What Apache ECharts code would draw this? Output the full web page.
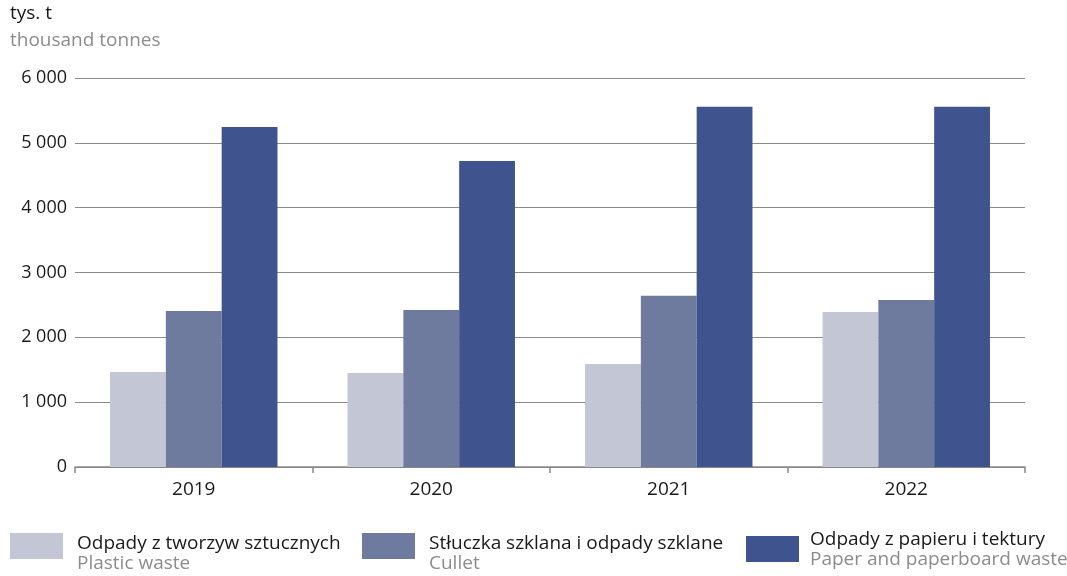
<!DOCTYPE html>
<html>
<head>
<meta charset="utf-8">
<script src="https://cdn.jsdelivr.net/npm/echarts@6/dist/echarts.min.js"></script>
<style>
html, body { margin: 0; padding: 0; background: #fff; }
#main { width: 1067px; height: 576px; }
</style>
</head>
<body>
<div id="main"></div>
<script>
var years = ['2019', '2020', '2021', '2022'];
var plastic = [1465, 1450, 1590, 2390];
var cullet = [2405, 2420, 2640, 2575];
var paper = [5245, 4720, 5555, 5555];
var seriesNames = ['Odpady z tworzyw sztucznych', 'Stłuczka szklana i odpady szklane', 'Odpady z papieru i tektury'];
var seriesNamesEn = ['Plastic waste', 'Cullet', 'Paper and paperboard waste'];
var colors = ['#c3c6d5', '#6f7a9f', '#3f548e'];

var font = 'Open Sans';

// one legend per item so each can sit where it does in the original
// firstLine: height of the Polish line; a taller line pushes the text down next to the square
function legendFor(i, left, top, firstLine, padLeft) {
	return {
		data: [seriesNames[i]],
		left: left,
		top: top,
		padding: 0,
		itemWidth: 53,
		itemHeight: 26,
		icon: 'rect',
		selectedMode: false,
		formatter: function(name) {
			return '{a|' + name + '}\n{b|' + seriesNamesEn[i] + '}';
		},
		textStyle: {
			rich: {
				a: { fontFamily: font, fontSize: 19, color: '#1a1a1a', lineHeight: firstLine, verticalAlign: 'bottom', padding: [0, 0, 0, padLeft] },
				b: { fontFamily: font, fontSize: 19, color: '#8c8c8c', lineHeight: 22, padding: [0, 0, 0, padLeft] }
			}
		}
	};
}

var option = {
	animation: false,
	grid: { left: 75, right: 42, top: 78, bottom: 109 },
	graphic: [{
		type: 'text', left: 10, top: 4,
		style: { text: 'tys. t', fontFamily: font, fontSize: 19, fill: '#1a1a1a' }
	}, {
		type: 'text', left: 10, top: 31,
		style: { text: 'thousand tonnes', fontFamily: font, fontSize: 19, fill: '#8c8c8c' }
	}],
	legend: [
		legendFor(0, 10, 533, 36, 9),
		legendFor(1, 362, 533, 36, 9),
		legendFor(2, 746, 530, 22, 6)
	],
	xAxis: {
		type: 'category',
		data: years,
		axisLine: { lineStyle: { color: '#888', width: 1.5 } },
		axisTick: { show: true, length: 6, lineStyle: { color: '#888', width: 1.5 } },
		axisLabel: { fontFamily: font, fontSize: 19, color: '#1a1a1a', margin: 13 }
	},
	yAxis: {
		type: 'value',
		min: 0,
		max: 6000,
		interval: 1000,
		axisLine: { show: false },
		axisTick: { show: false },
		axisLabel: {
			fontFamily: font, fontSize: 18, color: '#1a1a1a', margin: 8,
			formatter: function(v) {
				return String(v).replace(/\B(?=(\d{3})+(?!\d))/g, ' ');
			}
		},
		splitLine: { lineStyle: { color: '#8a8a8a', width: 1.2 } }
	},
	series: [{
		name: seriesNames[0], type: 'bar', data: plastic,
		itemStyle: { color: colors[0] }, barGap: '0%', barCategoryGap: '29.5%'
	}, {
		name: seriesNames[1], type: 'bar', data: cullet,
		itemStyle: { color: colors[1] }, barGap: '0%', barCategoryGap: '29.5%'
	}, {
		name: seriesNames[2], type: 'bar', data: paper,
		itemStyle: { color: colors[2] }, barGap: '0%', barCategoryGap: '29.5%'
	}]
};

var chart = echarts.init(document.getElementById('main'));
chart.setOption(option);
</script>
</body>
</html>
